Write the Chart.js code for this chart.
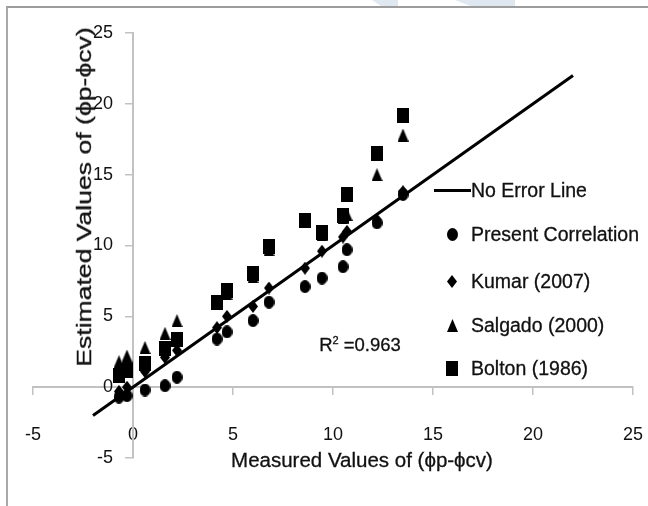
<!DOCTYPE html>
<html>
<head>
<meta charset="utf-8">
<script src="https://cdn.jsdelivr.net/npm/chart.js@4.4.0/dist/chart.umd.min.js"></script>
<style>
  body { margin: 0; background: #fff; }
  #wrap { position: relative; width: 648px; height: 506px; overflow: hidden;
          font-family: "Liberation Sans", Arial, sans-serif; color: #111; }
  #chart { position: absolute; left: 0; top: 0; }
  .frame { position: absolute; left: 6px; top: 6px; width: 660px; height: 520px;
           border-left: 2px solid #a9a9a9; border-top: 2px solid #9c9c9c; }
  .wm { position: absolute; top: 0; height: 7px; background: #dfe7f1; }
  .txt { position: absolute; white-space: nowrap; line-height: 1; -webkit-text-stroke: 0.3px #111; }
  #ytitle { left: 84px; top: 197px; font-size: 20px; transform: translate(-50%, -50%) rotate(-90deg); }
  #xtitle { left: 362px; top: 460px; font-size: 20.5px; transform: translate(-50%, -50%); }
  #r2 { left: 360px; top: 345px; font-size: 18.5px; transform: translate(-50%, -50%); }
  #r2 sup { font-size: 11px; vertical-align: 7px; }
  .leg { position: absolute; left: 433px; height: 24px; display: flex; align-items: center;
         font-size: 19.5px; white-space: nowrap; -webkit-text-stroke: 0.3px #111; }
  .leg .mk { width: 38px; display: flex; justify-content: center; align-items: center; }
  .leg .ln { width: 37px; height: 3px; background: #000; }
</style>
</head>
<body>
<div id="wrap">
  <div class="wm" style="left:372px;width:26px;clip-path:polygon(0 0,100% 0,100% 100%,40% 100%);"></div>
  <div class="wm" style="left:455px;width:60px;clip-path:polygon(0 0,100% 0,100% 100%,30% 100%);"></div>
  <div class="frame"></div>
  <canvas id="chart" width="648" height="506"></canvas>
  <div class="txt" id="ytitle">Estimated Values of (ϕp-ϕcv)</div>
  <div class="txt" id="xtitle">Measured Values of (ϕp-ϕcv)</div>
  <div class="txt" id="r2">R<sup>2</sup> =0.963</div>
  <div id="legend"></div>
</div>
<script>
// measured values shared by all four correlations
const measured = [-0.7, -0.3, 0.6, 1.6, 2.2, 4.2, 4.7, 6.0, 6.8, 8.6, 9.45, 10.5, 10.7, 12.2, 13.5];
const present  = [-0.7, -0.6, -0.2, 0.1, 0.7, 3.4, 3.9, 4.7, 6.0, 7.1, 7.7, 8.5, 9.7, 11.6, 13.6];
const kumar    = [-0.3, 0.0, 1.1, 2.1, 2.6, 4.2, 5.0, 5.7, 7.0, 8.4, 9.6, 10.6, 11.0, 11.8, 13.8];
const salgado  = [1.8, 2.2, 2.8, 3.8, 4.7, 5.9, 6.6, 7.8, 9.7, 11.7, 10.8, 12.0, 12.2, 15.0, 17.8];
const bolton   = [0.8, 1.2, 1.7, 2.7, 3.4, 6.0, 6.8, 8.0, 9.9, 11.8, 10.9, 12.1, 13.6, 16.5, 19.2];

const lineX = [-2, 22];
const lineY = [-2, 22];

const axisTicks = [-5, 0, 5, 10, 15, 20, 25];
const seriesNames = ['No Error Line', 'Present Correlation', 'Kumar (2007)', 'Salgado (2000)', 'Bolton (1986)'];

const toPoints = (xs, ys) => xs.map((x, i) => ({ x: x, y: ys[i] }));

// small black marker images (shapes are a little taller than wide, as in the source)
function marker(kind, w, h) {
  const c = document.createElement('canvas');
  c.width = w; c.height = h;
  const g = c.getContext('2d');
  g.fillStyle = '#000';
  g.beginPath();
  if (kind === 'circle') {
    g.ellipse(w / 2, h / 2, w / 2, h / 2, 0, 0, Math.PI * 2);
  } else if (kind === 'diamond') {
    g.moveTo(w / 2, 0); g.lineTo(w, h / 2); g.lineTo(w / 2, h); g.lineTo(0, h / 2);
  } else if (kind === 'triangle') {
    g.moveTo(w / 2, 0); g.lineTo(w, h); g.lineTo(0, h);
  } else {
    g.rect(0, 0, w, h);
  }
  g.closePath();
  g.fill();
  return c;
}

const mkCircle = marker('circle', 11, 13);
const mkDiamond = marker('diamond', 10, 13);
const mkTriangle = marker('triangle', 11, 13);
const mkSquare = marker('square', 12, 15);

const fontFamily = '"Liberation Sans", Arial, sans-serif';

// lower order is drawn on top: line, circles, diamonds, squares, then triangles underneath
new Chart(document.getElementById('chart'), {
  type: 'scatter',
  data: {
    datasets: [
      { label: seriesNames[0], data: toPoints(lineX, lineY), showLine: true,
        borderColor: '#000', borderWidth: 3, pointRadius: 0, order: 0 },
      { label: seriesNames[1], data: toPoints(measured, present), pointStyle: mkCircle, order: 1 },
      { label: seriesNames[2], data: toPoints(measured, kumar), pointStyle: mkDiamond, order: 2 },
      { label: seriesNames[3], data: toPoints(measured, salgado), pointStyle: mkTriangle, order: 4 },
      { label: seriesNames[4], data: toPoints(measured, bolton), pointStyle: mkSquare, order: 3 }
    ]
  },
  options: {
    responsive: false,
    animation: false,
    layout: { padding: { left: 33, right: 15, top: 33, bottom: 48 } },
    plugins: { legend: { display: false }, tooltip: { enabled: false } },
    scales: {
      x: {
        type: 'linear', min: -5, max: 25, position: { y: 0 },
        afterBuildTicks: s => { s.ticks = axisTicks.map(v => ({ value: v })); },
        // tall line height pushes the labels down without widening the side padding
        ticks: { color: '#111', font: { family: fontFamily, size: 18, lineHeight: '80px' }, padding: 1 },
        grid: { drawOnChartArea: false, tickLength: 7, color: '#c2c2c2', lineWidth: 1.5 },
        border: { color: '#c2c2c2', width: 2 }
      },
      y: {
        type: 'linear', min: -5, max: 25, position: { x: 0 },
        afterBuildTicks: s => { s.ticks = axisTicks.map(v => ({ value: v })); },
        ticks: { color: '#111', font: { family: fontFamily, size: 18 }, padding: 0,
                 callback: v => v + '    ' },
        grid: { drawOnChartArea: false, tickLength: 7, color: '#c2c2c2', lineWidth: 1.5 },
        border: { color: '#c2c2c2', width: 2 }
      }
    }
  }
});

// the y title in the source is drawn long and thin: stretch it along its length
const yTitle = document.getElementById('ytitle');
const stretch = 339 / yTitle.offsetWidth;
yTitle.style.transform = 'translate(-50%, -50%) rotate(-90deg) scaleX(' + stretch.toFixed(3) + ')';

// legend drawn as text beside the plot, inside the chart area like the original
const legendRows = [190, 234.5, 281, 325, 368];
const legendMarks = [null, mkCircle, mkDiamond, mkTriangle, mkSquare];
const legend = document.getElementById('legend');
seriesNames.forEach((name, i) => {
  const row = document.createElement('div');
  row.className = 'leg';
  row.style.top = (legendRows[i] - 12) + 'px';
  const mk = document.createElement('div');
  mk.className = 'mk';
  if (legendMarks[i]) {
    const img = document.createElement('img');
    img.src = legendMarks[i].toDataURL();
    mk.appendChild(img);
  } else {
    const ln = document.createElement('div');
    ln.className = 'ln';
    mk.appendChild(ln);
  }
  row.appendChild(mk);
  const label = document.createElement('span');
  label.textContent = name;
  row.appendChild(label);
  legend.appendChild(row);
});
</script>
</body>
</html>
